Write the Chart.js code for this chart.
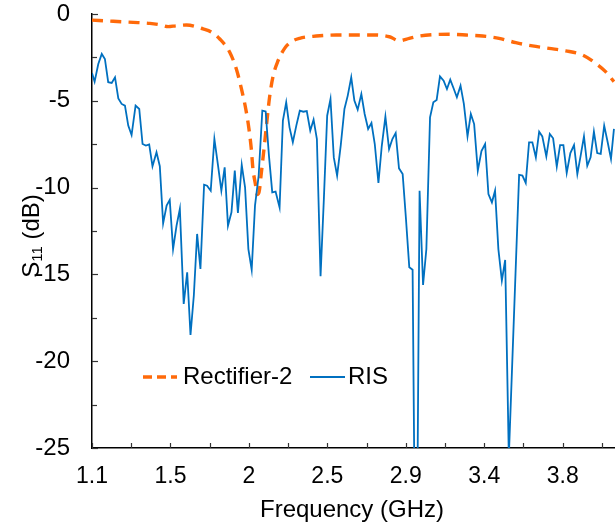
<!DOCTYPE html>
<html>
<head>
<meta charset="utf-8">
<script src="https://cdn.jsdelivr.net/npm/chart.js@4.4.1/dist/chart.umd.min.js"></script>
<style>
  html, body { margin: 0; padding: 0; background: #fff; }
  #wrap { width: 615px; height: 527px; }
</style>
</head>
<body>
<div id="wrap"><canvas id="canvasS11" width="615" height="527"></canvas></div>
<script>
// values
var rectFreq = [1.100, 1.222, 1.336, 1.432, 1.489, 1.537, 1.581, 1.642, 1.737, 1.787, 1.833, 1.890, 1.928, 1.957, 1.982,
  2.000, 2.014, 2.023, 2.039, 2.047, 2.058, 2.071, 2.086, 2.100, 2.119, 2.138, 2.166, 2.205, 2.243, 2.291, 2.386, 2.501,
  2.615, 2.730, 2.806, 2.863, 2.920, 2.977, 3.054, 3.149, 3.245, 3.340, 3.435, 3.531, 3.626, 3.722, 3.817, 3.914,
  3.989, 4.046, 4.094];
var rectS11 = [-0.35, -0.42, -0.48, -0.54, -0.62, -0.73, -0.68, -0.63, -0.86, -1.05, -1.44, -2.2, -3.17, -4.3, -5.47,
  -6.6, -7.8, -8.9, -9.9, -10.4, -10.27, -9.18, -7.83, -6.49, -4.76, -3.61, -2.72, -1.98, -1.6, -1.4, -1.27, -1.21,
  -1.21, -1.21, -1.31, -1.54, -1.4, -1.27, -1.19, -1.17, -1.21, -1.27, -1.4, -1.65, -1.84, -1.98, -2.12, -2.36,
  -2.84, -3.32, -3.9];

var risFreq = [1.100, 1.115, 1.136, 1.156, 1.174, 1.193, 1.213, 1.232, 1.251, 1.270, 1.289, 1.308, 1.327, 1.350, 1.371,
  1.390, 1.409, 1.428, 1.447, 1.470, 1.489, 1.508, 1.528, 1.546, 1.565, 1.585, 1.604, 1.626, 1.646, 1.665, 1.684,
  1.703, 1.722, 1.743, 1.760, 1.781, 1.802, 1.823, 1.842, 1.861, 1.880, 1.900, 1.919, 1.937, 1.959, 1.978, 1.997,
  2.016, 2.035, 2.056, 2.077, 2.096, 2.115, 2.134, 2.153, 2.176, 2.195, 2.214, 2.233, 2.252, 2.272, 2.292, 2.312,
  2.332, 2.352, 2.371, 2.390, 2.411, 2.430, 2.449, 2.468, 2.487, 2.506, 2.527, 2.548, 2.567, 2.587, 2.605, 2.624,
  2.645, 2.664, 2.684, 2.703, 2.722, 2.743, 2.762, 2.783, 2.804, 2.823, 2.842, 2.861, 2.882, 2.901, 2.920, 2.939,
  2.959, 2.979, 2.999, 3.018, 3.039, 3.058, 3.077, 3.096, 3.117, 3.136, 3.155, 3.174, 3.193, 3.214, 3.233, 3.254,
  3.273, 3.292, 3.313, 3.334, 3.355, 3.374, 3.394, 3.412, 3.431, 3.451, 3.470, 3.491, 3.550, 3.569, 3.588, 3.607,
  3.626, 3.646, 3.665, 3.683, 3.706, 3.726, 3.745, 3.766, 3.785, 3.804, 3.823, 3.844, 3.865, 3.884, 3.903, 3.922,
  3.941, 3.960, 3.979, 3.998, 4.018, 4.038, 4.058, 4.077, 4.094];
var risS11 = [-3.4, -3.9, -2.88, -2.3, -2.59, -3.93, -3.97, -3.65, -4.86, -5.18, -5.28, -6.43, -6.97, -5.28, -5.47,
  -7.49, -7.58, -7.51, -8.77, -7.97, -8.77, -12.06, -11.04, -10.71, -13.54, -12.19, -11.23, -16.7, -14.88, -18.49, -16.23,
  -12.67, -14.69, -9.83, -9.89, -10.18, -7.2, -8.74, -10.18, -8.83, -12.19, -11.42, -9.02, -11.46, -8.7, -9.98, -13.54,
  -14.73, -11.04, -9.31, -5.57, -5.61, -8.16, -10.27, -10.23, -11.14, -6.14, -5.09, -6.53, -7.39, -6.43, -5.57, -5.63,
  -5.59, -6.72, -6.09, -7.2, -15.11, -10.66, -5.86, -4.9, -8.26, -9.31, -7.55, -5.47, -4.7, -3.65, -4.99, -5.51,
  -4.61, -5.76, -6.62, -6.28, -7.49, -9.73, -7.62, -5.91, -7.78, -7.2, -6.85, -8.89, -9.22, -11.81, -14.59, -14.73,
  -38, -10.18, -15.61, -13.54, -5.95, -5.09, -4.95, -3.59, -3.84, -4.32, -3.78, -4.28, -4.8, -4.13, -5.18, -7.05,
  -5.76, -6.34, -9.02, -7.9, -7.49, -10.37, -10.85, -10.18, -13.54, -15.36, -14.17, -25.5, -9.27, -9.31, -9.73, -7.39,
  -7.39, -8.26, -6.78, -7.05, -8.2, -6.91, -7.16, -8.79, -7.55, -7.55, -9.16, -8.01, -7.55, -9.22, -8.16, -7.05,
  -8.74, -8.26, -6.78, -8.01, -8.06, -6.43, -7.39, -8.35, -6.62];

var xTickValues = [1.1, 1.55, 2.0, 2.45, 2.9, 3.35, 3.8];
var xTickLabels = ['1.1', '1.5', '2', '2.5', '2.9', '3.4', '3.8'];
var yTickValues = [0, -5, -10, -15, -20, -25];
var seriesNames = ['Rectifier-2', 'RIS'];

var FONT = "'Liberation Sans', Arial, sans-serif";
var orange = '#FF6A0A';
var blue = '#0070C0';

function pairs(xs, ys) {
  var out = [];
  for (var i = 0; i < xs.length; i++) out.push({x: xs[i], y: ys[i]});
  return out;
}

// inward tick marks, axis titles and the legend inside the plot
var extras = {
  id: 'extras',
  afterDraw: function(chart) {
    var ctx = chart.ctx;
    var xs = chart.scales.x, ys = chart.scales.y;
    var area = chart.chartArea;
    ctx.save();
    ctx.strokeStyle = '#333';
    ctx.lineWidth = 1.2;
    var i, v, p;
    for (i = 0; i < xTickValues.length; i++) {
      var vals = [xTickValues[i], xTickValues[i] + 0.225];
      for (var k = 0; k < vals.length; k++) {
        v = vals[k];
        if (v > xs.max) continue;
        p = Math.round(xs.getPixelForValue(v)) + 0.5;
        ctx.beginPath(); ctx.moveTo(p, area.bottom); ctx.lineTo(p, area.bottom - 5); ctx.stroke();
      }
    }
    for (i = 0; i < yTickValues.length; i++) {
      v = yTickValues[i];
      p = Math.round(ys.getPixelForValue(v)) + 0.5;
      ctx.beginPath(); ctx.moveTo(area.left, p); ctx.lineTo(area.left + 6, p); ctx.stroke();
      if (v - 2.5 >= ys.min) {
        p = Math.round(ys.getPixelForValue(v - 2.5)) + 0.5;
        ctx.beginPath(); ctx.moveTo(area.left, p); ctx.lineTo(area.left + 5, p); ctx.stroke();
      }
    }

    // x title
    ctx.fillStyle = '#000';
    ctx.font = '24px ' + FONT;
    ctx.textAlign = 'center';
    ctx.textBaseline = 'middle';
    ctx.fillText('Frequency (GHz)', 352, 510);

    // y title with subscript
    ctx.save();
    ctx.translate(32, 236);
    ctx.rotate(-Math.PI / 2);
    ctx.textBaseline = 'middle';
    ctx.textAlign = 'left';
    var big = '24px ' + FONT, small = '15px ' + FONT;
    ctx.font = big; var wS = ctx.measureText('S').width;
    ctx.font = small; var w11 = ctx.measureText('11').width;
    ctx.font = big; var wRest = ctx.measureText(' (dB)').width;
    var x0 = -(wS + w11 + wRest) / 2;
    ctx.font = big; ctx.fillText('S', x0, 0);
    ctx.font = small; ctx.fillText('11', x0 + wS, 6);
    ctx.font = big; ctx.fillText(' (dB)', x0 + wS + w11, 0);
    ctx.restore();

    // legend
    var ly = 377;
    ctx.strokeStyle = orange;
    ctx.lineWidth = 3.4;
    ctx.setLineDash([9, 5]);
    ctx.beginPath(); ctx.moveTo(143, ly); ctx.lineTo(177, ly); ctx.stroke();
    ctx.setLineDash([]);
    ctx.strokeStyle = blue;
    ctx.lineWidth = 1.8;
    ctx.beginPath(); ctx.moveTo(310, ly); ctx.lineTo(345, ly); ctx.stroke();
    ctx.fillStyle = '#000';
    ctx.font = '24px ' + FONT;
    ctx.textAlign = 'left';
    ctx.fillText(seriesNames[0], 183, ly);
    ctx.fillText(seriesNames[1], 348, ly);
    ctx.restore();
  }
};

var ctx = document.getElementById('canvasS11');
var chart = new Chart(ctx, {
  type: 'line',
  data: {
    datasets: [
      {
        label: seriesNames[1],
        data: pairs(risFreq, risS11),
        borderColor: blue,
        borderWidth: 1.8,
        pointRadius: 0,
        tension: 0,
        fill: false
      },
      {
        label: seriesNames[0],
        data: pairs(rectFreq, rectS11),
        borderColor: orange,
        borderWidth: 3.4,
        borderDash: [11, 7.3],
        pointRadius: 0,
        cubicInterpolationMode: 'monotone',
        fill: false
      }
    ]
  },
  options: {
    responsive: false,
    devicePixelRatio: 1,
    animation: false,
    layout: { padding: { top: 14, right: 0, left: 0, bottom: 0 } },
    plugins: { legend: { display: false }, tooltip: { enabled: false } },
    scales: {
      x: {
        type: 'linear',
        min: 1.1,
        max: 4.1,
        afterBuildTicks: function(s) { s.ticks = xTickValues.map(function(v) { return {value: v}; }); },
        afterFit: function(s) { s.height = 79; s.paddingLeft = 0; s.paddingRight = 0; },
        grid: { display: false, drawTicks: false },
        border: { display: true, color: '#000', width: 1.5 },
        ticks: {
          padding: 15,
          color: '#000',
          maxRotation: 0,
          autoSkip: false,
          font: { family: FONT, size: 23 },
          callback: function(v) {
            var i = xTickValues.indexOf(v);
            return i < 0 ? '' : xTickLabels[i];
          }
        }
      },
      y: {
        min: -25,
        max: 0,
        afterBuildTicks: function(s) { s.ticks = yTickValues.map(function(v) { return {value: v}; }); },
        afterFit: function(s) { s.width = 92; s.paddingTop = 0; s.paddingBottom = 0; },
        grid: { display: false, drawTicks: false },
        border: { display: true, color: '#000', width: 1.5 },
        ticks: {
          padding: 22,
          color: '#000',
          font: { family: FONT, size: 24 }
        }
      }
    }
  },
  plugins: [extras]
});
</script>
</body>
</html>
